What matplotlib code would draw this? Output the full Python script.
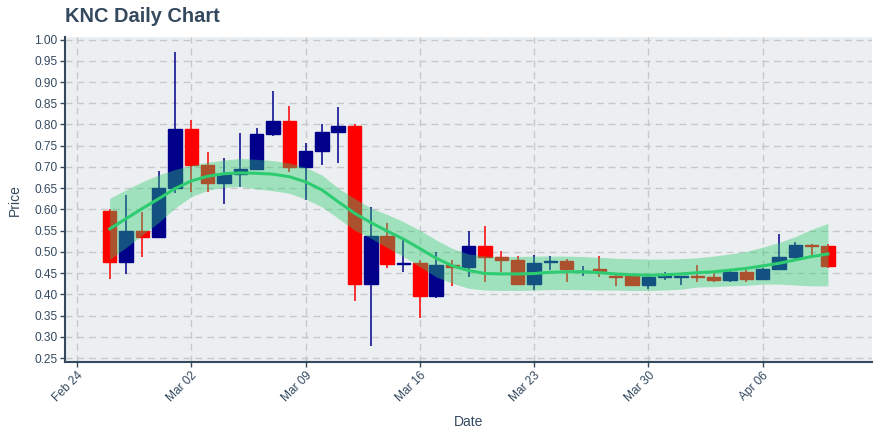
import pandas as pd
import matplotlib
matplotlib.use('Agg')
import matplotlib.pyplot as plt
import matplotlib.dates as mdates

plt.rcParams['font.family'] = ['Liberation Sans', 'DejaVu Sans']

# daily candles, Feb 26 - Apr 10 2020
dates = pd.date_range('2020-02-26', '2020-04-10', freq='D')

opens = [0.597, 0.476, 0.548, 0.535, 0.651, 0.789, 0.705, 0.661, 0.683, 0.695,
         0.777, 0.809, 0.699, 0.738, 0.782, 0.796, 0.424, 0.538, 0.471, 0.473,
         0.396, 0.468, 0.465, 0.513, 0.487, 0.480, 0.424, 0.475, 0.478, 0.455,
         0.460, 0.444, 0.443, 0.422, 0.440, 0.441, 0.442, 0.440, 0.434, 0.452,
         0.435, 0.459, 0.487, 0.517, 0.513]
highs = [0.600, 0.634, 0.593, 0.691, 0.970, 0.810, 0.734, 0.720, 0.780, 0.791,
         0.880, 0.843, 0.757, 0.800, 0.841, 0.800, 0.606, 0.567, 0.527, 0.481,
         0.500, 0.481, 0.549, 0.561, 0.501, 0.490, 0.492, 0.490, 0.482, 0.467,
         0.490, 0.450, 0.444, 0.442, 0.452, 0.442, 0.470, 0.451, 0.455, 0.459,
         0.463, 0.541, 0.524, 0.519, 0.519]
lows = [0.435, 0.447, 0.488, 0.532, 0.638, 0.642, 0.642, 0.612, 0.652, 0.693,
        0.773, 0.689, 0.621, 0.705, 0.710, 0.385, 0.278, 0.462, 0.453, 0.345,
        0.392, 0.420, 0.441, 0.430, 0.453, 0.421, 0.410, 0.457, 0.430, 0.443,
        0.441, 0.420, 0.420, 0.413, 0.434, 0.422, 0.430, 0.430, 0.428, 0.430,
        0.433, 0.457, 0.482, 0.490, 0.462]
closes = [0.476, 0.548, 0.535, 0.651, 0.789, 0.705, 0.661, 0.683, 0.695, 0.777,
          0.809, 0.699, 0.738, 0.782, 0.796, 0.424, 0.538, 0.471, 0.473, 0.396,
          0.468, 0.465, 0.513, 0.488, 0.481, 0.424, 0.473, 0.478, 0.460, 0.456,
          0.455, 0.441, 0.422, 0.440, 0.442, 0.443, 0.440, 0.434, 0.452, 0.435,
          0.459, 0.487, 0.517, 0.513, 0.467]

# smoothed trend and its band
trend = [0.554, 0.578, 0.602, 0.625, 0.649, 0.667, 0.678, 0.684, 0.686, 0.685,
         0.683, 0.677, 0.665, 0.646, 0.618, 0.591, 0.569, 0.549, 0.530, 0.508,
         0.485, 0.467, 0.456, 0.449, 0.448, 0.448, 0.449, 0.452, 0.453, 0.453,
         0.451, 0.448, 0.446, 0.445, 0.446, 0.448, 0.451, 0.453, 0.457, 0.461,
         0.467, 0.473, 0.481, 0.489, 0.495]
band_up = [0.626, 0.646, 0.665, 0.681, 0.694, 0.704, 0.711, 0.716, 0.720, 0.718,
           0.715, 0.709, 0.699, 0.681, 0.650, 0.626, 0.603, 0.588, 0.571, 0.551,
           0.528, 0.508, 0.495, 0.490, 0.489, 0.489, 0.490, 0.490, 0.490, 0.489,
           0.487, 0.485, 0.484, 0.483, 0.483, 0.484, 0.486, 0.490, 0.495, 0.501,
           0.511, 0.522, 0.536, 0.553, 0.567]
band_lo = [0.482, 0.510, 0.540, 0.569, 0.603, 0.630, 0.645, 0.652, 0.654, 0.648,
           0.644, 0.638, 0.624, 0.606, 0.579, 0.551, 0.532, 0.510, 0.489, 0.465,
           0.441, 0.426, 0.414, 0.410, 0.409, 0.409, 0.410, 0.411, 0.411, 0.411,
           0.410, 0.410, 0.409, 0.409, 0.410, 0.412, 0.417, 0.418, 0.420, 0.421,
           0.424, 0.424, 0.422, 0.420, 0.420]

up_col = '#00008b'
down_col = '#ff0000'
green = '#2ecc71'
text_col = '#34495e'

fig = plt.figure(figsize=(8.8, 4.4), dpi=100)
ax = fig.add_axes([65 / 880, 1 - 362 / 440, 807 / 880, 325 / 440])
ax.set_facecolor('#eceff1')

for d, o, h, l, c in zip(dates, opens, highs, lows, closes):
    col = up_col if c >= o else down_col
    ax.vlines(d, l, h, color=col, linewidth=1.1, zorder=2)
    ax.bar(d, abs(c - o), bottom=min(o, c), width=0.82, color=col,
           edgecolor=col, linewidth=1.0, zorder=2)

ax.fill_between(dates, band_lo, band_up, color=green, alpha=0.4, linewidth=0, zorder=3)
ax.plot(dates, trend, color=green, linewidth=2.2, zorder=4)

start = pd.Timestamp('2020-02-24')
ax.set_xlim(start - pd.Timedelta(days=0.735), start + pd.Timedelta(days=48.7))
ax.set_ylim(0.2406, 1.006)

ax.xaxis.set_major_locator(mdates.DayLocator(bymonthday=[24, 2, 9, 16, 23, 30, 6]))
ax.set_xticks(pd.date_range('2020-02-24', '2020-04-06', freq='7D'))
ax.xaxis.set_major_formatter(mdates.DateFormatter('%b %d'))
ax.set_yticks([0.25 + 0.05 * i for i in range(16)])
ax.yaxis.set_major_formatter(matplotlib.ticker.FormatStrFormatter('%.2f'))

for lab in ax.get_xticklabels():
    lab.set_rotation(45)
    lab.set_ha('right')
    lab.set_va('top')
    lab.set_rotation_mode('anchor')

ax.tick_params(axis='both', colors=text_col, labelsize=8.6, length=3.6, width=1, pad=2)
ax.grid(True, color='#c6c8ca', linestyle=(0, (5, 3.5)), linewidth=1)
ax.set_axisbelow(True)

for side in ['top', 'right']:
    ax.spines[side].set_visible(False)
for side in ['left', 'bottom']:
    ax.spines[side].set_color(text_col)
    ax.spines[side].set_linewidth(1.5)

fig.text(65 / 880, 1 - 16 / 440, 'KNC Daily Chart', ha='left', va='center',
         fontsize=14.4, fontweight='bold', color=text_col)
fig.text(468.5 / 880, 1 - 422 / 440, 'Date', ha='center', va='center',
         fontsize=10, color=text_col)
fig.text(15 / 880, 1 - 200 / 440, 'Price', ha='center', va='center',
         rotation=90, fontsize=10, color=text_col)

fig.savefig('out.png', dpi=100)
